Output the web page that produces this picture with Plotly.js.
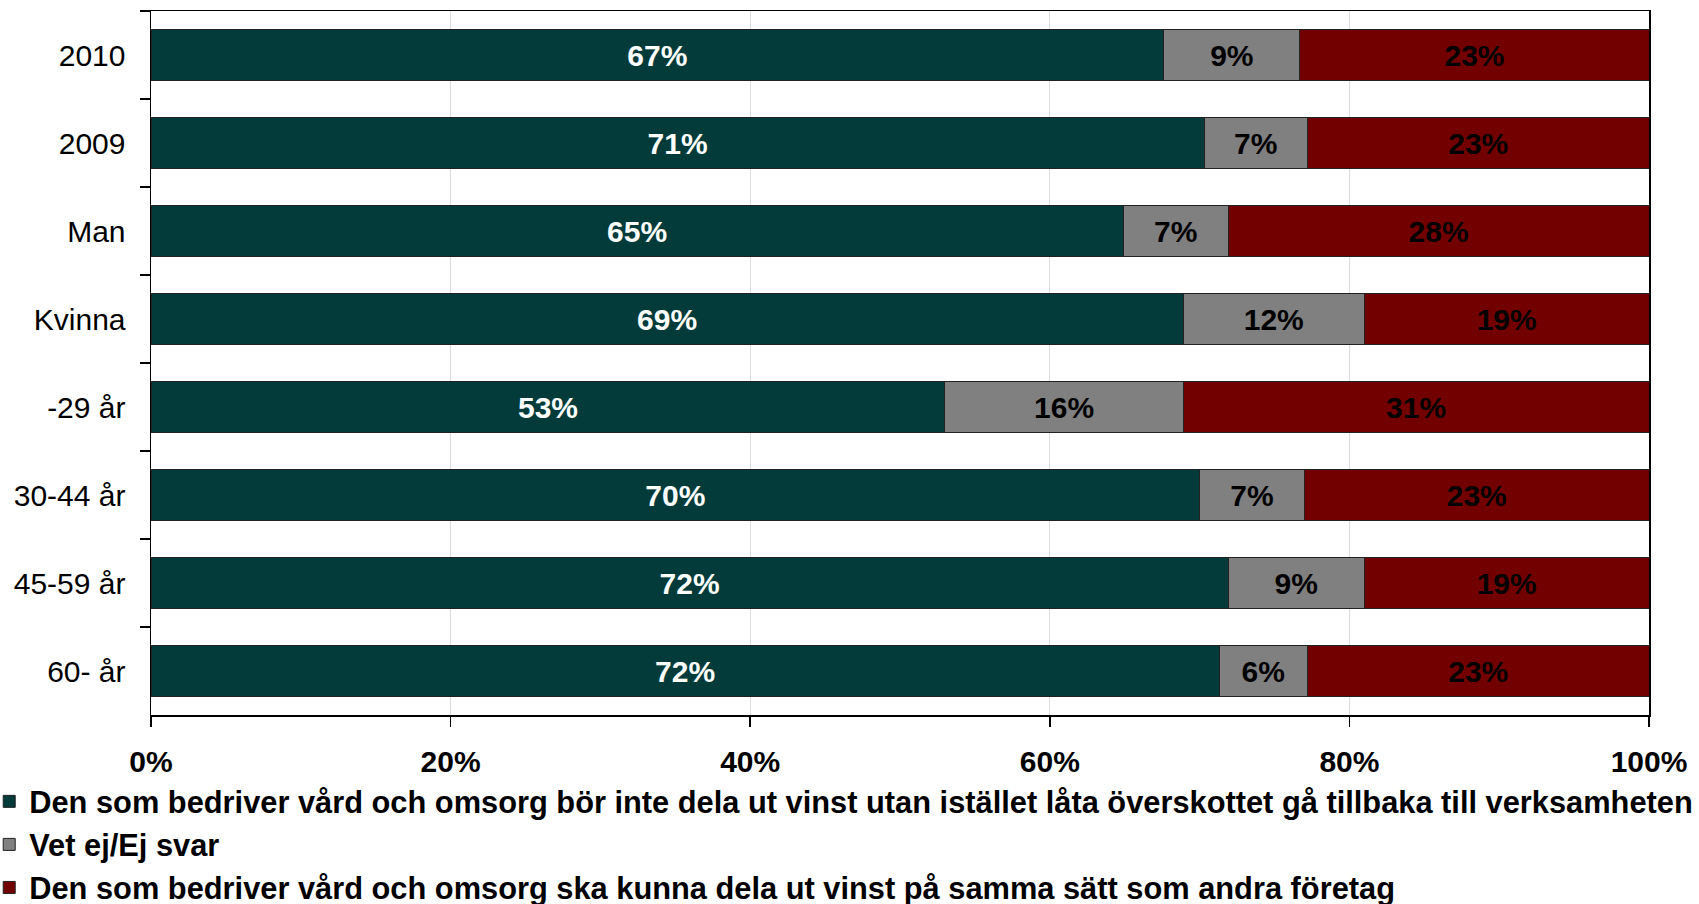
<!DOCTYPE html>
<html>
<head>
<meta charset="utf-8">
<script src="https://cdn.plot.ly/plotly-3.0.1.min.js"></script>
<style>html,body{margin:0;padding:0;background:#fff;}#chart{width:1699px;height:904px;}</style>
</head>
<body>
<div id="chart"></div>
<script>
const categories = ["2010", "2009", "Man", "Kvinna", "-29 år", "30-44 år", "45-59 år", "60- år"];
const seriesNames = [
  "Den som bedriver vård och omsorg bör inte dela ut vinst utan istället låta överskottet gå tillbaka till verksamheten",
  "Vet ej/Ej svar",
  "Den som bedriver vård och omsorg ska kunna dela ut vinst på samma sätt som andra företag"
];
const notProfit = [67.6, 70.3, 64.9, 68.9, 53.0, 70.0, 71.9, 71.3];
const dontKnow = [9.1, 6.9, 7.0, 12.1, 15.9, 7.0, 9.1, 5.9];
const profit = [23.3, 22.8, 28.1, 19.0, 31.1, 23.0, 19.0, 22.8];
const notProfitLabels = ["67%", "71%", "65%", "69%", "53%", "70%", "72%", "72%"];
const dontKnowLabels = ["9%", "7%", "7%", "12%", "16%", "7%", "9%", "6%"];
const profitLabels = ["23%", "23%", "28%", "19%", "31%", "23%", "19%", "23%"];
const xTickVals = [0, 20, 40, 60, 80, 100];
const xTickText = ["0%", "20%", "40%", "60%", "80%", "100%"];

const FONT = "Liberation Sans, Arial, sans-serif";
const colors = ["#033b3b", "#808080", "#720000"];
const textColors = ["#ffffff", "#000000", "#000000"];
const values = [notProfit, dontKnow, profit];
const labels = [notProfitLabels, dontKnowLabels, profitLabels];

const data = values.map((v, i) => ({
  type: "bar",
  orientation: "h",
  name: seriesNames[i],
  y: categories,
  x: v,
  text: labels[i],
  textposition: "inside",
  insidetextanchor: "middle",
  constraintext: "none",
  textfont: {family: FONT, size: 30, weight: "bold", color: textColors[i]},
  marker: {color: colors[i], line: {color: "#222222", width: 1}},
  hoverinfo: "skip"
}));

const layout = {
  width: 1699,
  height: 904,
  margin: {l: 151, r: 50, t: 11, b: 189, autoexpand: false},
  paper_bgcolor: "#ffffff",
  plot_bgcolor: "#ffffff",
  barmode: "stack",
  bargap: 0.41,
  showlegend: true,
  font: {family: FONT, color: "#000000"},
  xaxis: {
    range: [0, 100],
    tickvals: xTickVals,
    ticktext: xTickText,
    ticks: "outside",
    ticklen: 10,
    tickwidth: 1.5,
    tickcolor: "#000",
    showline: true,
    linecolor: "#000",
    linewidth: 1.5,
    mirror: true,
    showgrid: true,
    gridcolor: "#dddddd",
    gridwidth: 1,
    zeroline: false,
    ticklabelstandoff: 9,
    tickfont: {family: FONT, size: 30, weight: "bold", color: "#000"},
    fixedrange: true
  },
  yaxis: {
    type: "category",
    autorange: "reversed",
    ticks: "outside",
    tickson: "boundaries",
    ticklen: 10,
    tickwidth: 1.5,
    tickcolor: "#000",
    showline: true,
    linecolor: "#000",
    linewidth: 1.5,
    mirror: true,
    showgrid: false,
    ticklabelstandoff: 18,
    tickfont: {family: FONT, size: 30, color: "#000"},
    fixedrange: true
  },
  legend: {
    orientation: "v",
    traceorder: "normal",
    xref: "paper",
    yref: "paper",
    x: -0.108,
    xanchor: "left",
    y: -0.085,
    yanchor: "top",
    font: {family: FONT, size: 30.8, weight: "bold", color: "#000"},
    itemwidth: 30,
    bgcolor: "rgba(0,0,0,0)",
    borderwidth: 0
  }
};

Plotly.newPlot("chart", data, layout, {displayModeBar: false, staticPlot: true});
</script>
</body>
</html>
